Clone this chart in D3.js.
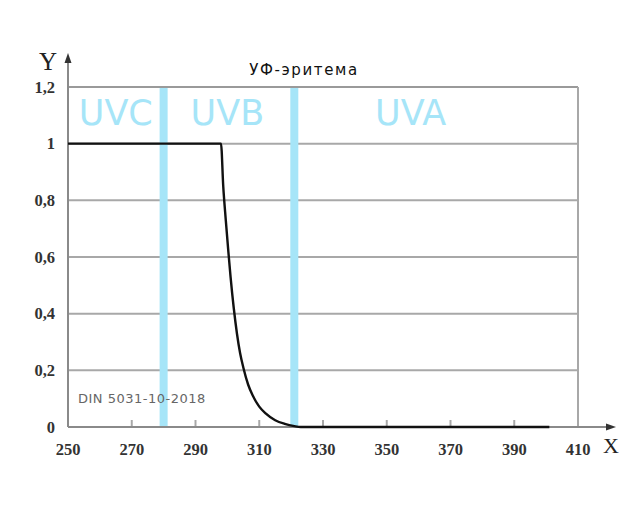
<!DOCTYPE html>
<html><head><meta charset="utf-8">
<script src="https://cdn.jsdelivr.net/npm/d3@7"></script>
<style>body{margin:0;background:#fff}svg{display:block}</style>
</head><body>
<svg id="c" width="640" height="532"></svg>
<script>
const xTicks = [250,270,290,310,330,350,370,390,410];
const yTicks = [0,0.2,0.4,0.6,0.8,1,1.2];
const yTickLabels = ["0","0,2","0,4","0,6","0,8","1","1,2"];
const bandBounds = [280,321];
const bandNames = ["UVC","UVB","UVA"];
const bandLabelX = [265,300,357.5];
const curveX = [250,298,298.7,299.5,300.3,301,302,303,304,305,306.5,308,310,312,315,318,321,323,401];
const curveY = [1,1,0.85,0.73,0.62,0.53,0.42,0.33,0.26,0.21,0.15,0.11,0.072,0.048,0.024,0.011,0.003,0,0];
const title = "УФ-эритема";
const note = "DIN 5031-10-2018";

const svg = d3.select("#c");
const x = d3.scaleLinear().domain([250,410]).range([68,578]);
const y = d3.scaleLinear().domain([0,1.2]).range([427,87]);
const blue = "#a6e5f8";
const grid = "#a8a8a8";

svg.selectAll("line.g").data(yTicks.slice(1)).join("line")
  .attr("x1",x(250)).attr("x2",x(410))
  .attr("y1",d=>y(d)).attr("y2",d=>y(d))
  .attr("stroke",d=>d===1.2?"#9a9a9a":grid).attr("stroke-width",2);
svg.append("line").attr("x1",x(410)).attr("x2",x(410)).attr("y1",y(1.2)).attr("y2",y(0))
  .attr("stroke",grid).attr("stroke-width",2);
svg.selectAll("line.t").data(xTicks.slice(1,-1)).join("line")
  .attr("x1",d=>x(d)).attr("x2",d=>x(d)).attr("y1",y(0)).attr("y2",y(0)-7)
  .attr("stroke",grid).attr("stroke-width",2);
svg.selectAll("rect.b").data(bandBounds).join("rect")
  .attr("x",d=>x(d)-4).attr("width",8).attr("y",y(1.2)+1).attr("height",y(0)-y(1.2)-1)
  .attr("fill",blue);
svg.selectAll("text.bl").data(bandNames).join("text")
  .attr("x",(d,i)=>x(bandLabelX[i])).attr("y",125)
  .attr("font-family","DejaVu Sans").attr("font-size",35).attr("fill",blue)
  .attr("text-anchor","middle").text(d=>d);
svg.append("line").attr("x1",x(250)).attr("x2",x(250)).attr("y1",y(0)).attr("y2",58)
  .attr("stroke","#8a8a8a").attr("stroke-width",2);
svg.append("path").attr("d","M68,53 L64.5,63 L71.5,63 Z").attr("fill","#333");
svg.append("line").attr("x1",x(250)).attr("x2",610).attr("y1",y(0)).attr("y2",y(0))
  .attr("stroke","#8a8a8a").attr("stroke-width",2);
svg.append("path").attr("d","M616,427 L606,423.5 L606,430.5 Z").attr("fill","#333");
const pts = curveX.map((v,i)=>[v,curveY[i]]);
svg.append("path").datum(pts)
  .attr("d",d3.line().x(d=>x(d[0])).y(d=>y(d[1])).curve(d3.curveMonotoneX))
  .attr("fill","none").attr("stroke","#111").attr("stroke-width",2.4);
svg.selectAll("text.yl").data(yTicks).join("text")
  .attr("x",55).attr("y",d=>y(d)+5.5).attr("text-anchor","end")
  .attr("font-family","Liberation Serif").attr("font-weight","bold").attr("font-size",16.5).attr("fill","#333")
  .text((d,i)=>yTickLabels[i]);
svg.selectAll("text.xl").data(xTicks).join("text")
  .attr("x",d=>x(d)).attr("y",455).attr("text-anchor","middle")
  .attr("font-family","Liberation Serif").attr("font-weight","bold").attr("font-size",16.5).attr("fill","#333")
  .text(d=>d);
svg.append("text").attr("x",48).attr("y",70).attr("text-anchor","middle")
  .attr("font-family","Liberation Serif").attr("font-size",25).attr("fill","#222").text("Y");
svg.append("text").attr("x",611).attr("y",453).attr("text-anchor","middle")
  .attr("font-family","Liberation Serif").attr("font-size",22).attr("fill","#222").text("X");
svg.append("text").attr("x",304).attr("y",75).attr("text-anchor","middle")
  .attr("font-family","DejaVu Sans").attr("font-size",15).attr("letter-spacing",1.6).attr("fill","#111").text(title);
svg.append("text").attr("x",78).attr("y",403)
  .attr("font-family","DejaVu Sans").attr("font-size",13).attr("letter-spacing",0.5).attr("fill","#666").text(note);
</script>
</body></html>
